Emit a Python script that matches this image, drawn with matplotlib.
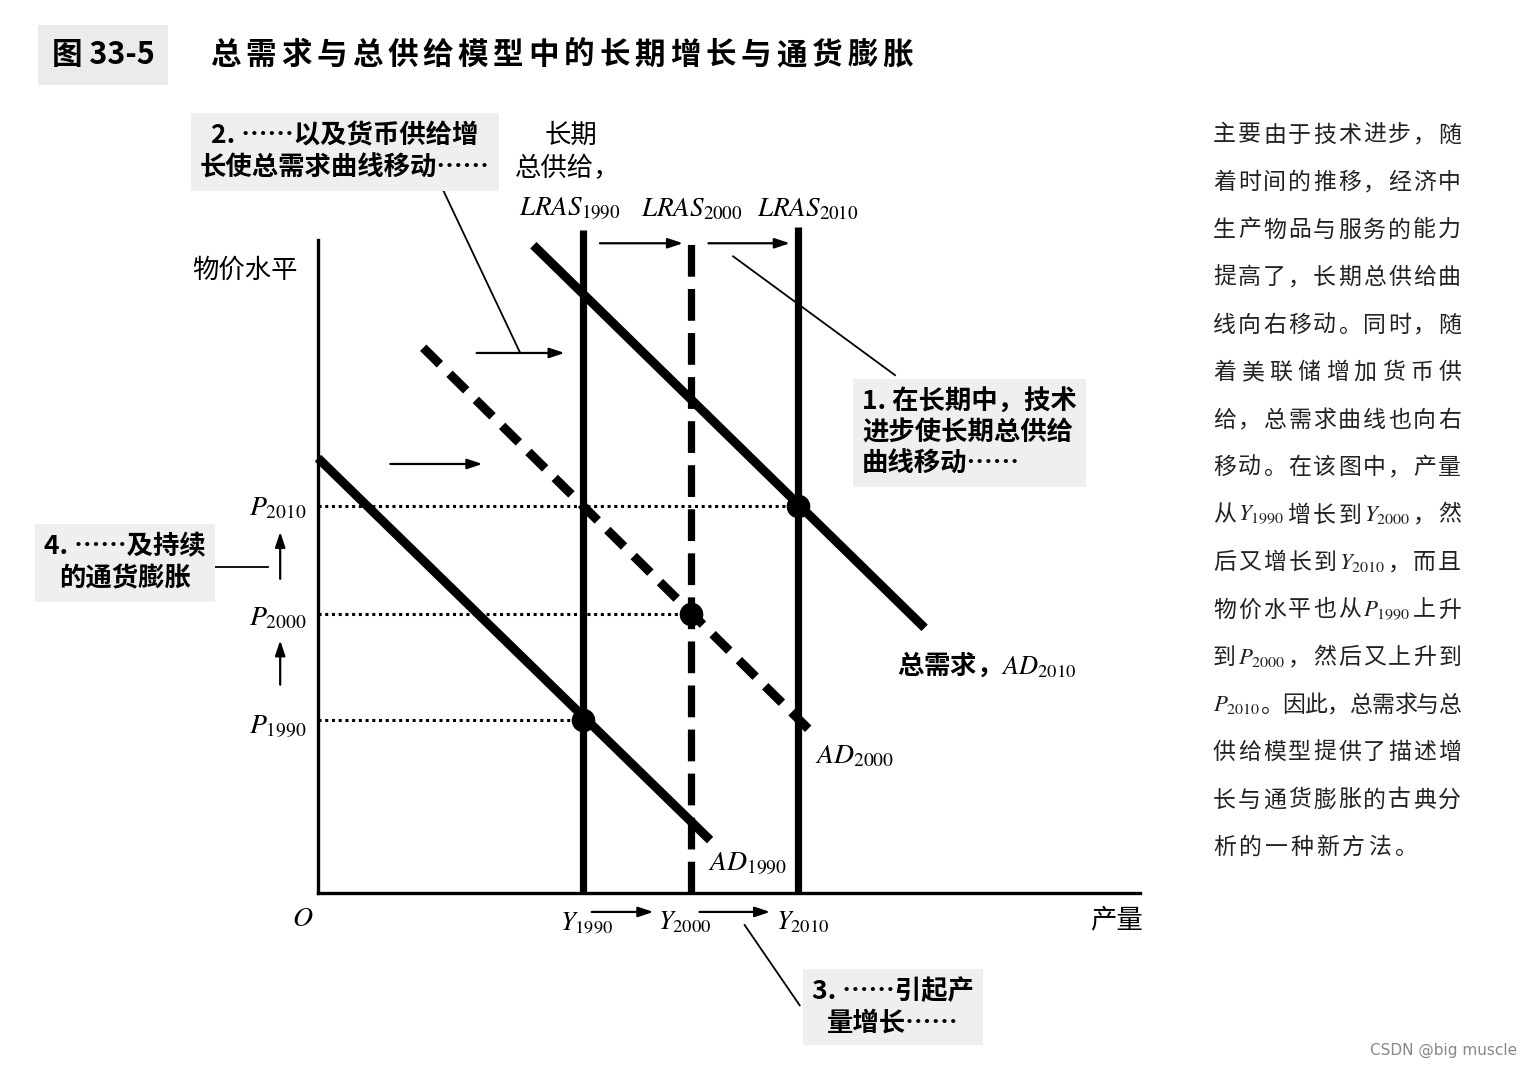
# -*- coding: utf-8 -*-
# 图 33-5：总需求与总供给模型中的长期增长与通货膨胀
import re
import matplotlib
matplotlib.use('Agg')
import matplotlib.pyplot as plt

plt.rcParams['font.family'] = ['Noto Sans CJK SC', 'DejaVu Sans']
plt.rcParams['mathtext.fontset'] = 'stix'

# ---------------- 数据 ----------------
years = ['1990', '2000', '2010']
# 产量 Y（长期总供给位置）与物价水平 P（均衡价格）
Y = [32.2, 45.4, 58.4]
P = [26.5, 42.7, 59.3]
# LRAS 顶端高度
lras_top = [101.5, 100.0, 102.0]
lras_style = ['solid', 'dashed', 'solid']
# 总需求曲线的两个端点
ad_x = [[0.0, 47.7], [12.8, 60.8], [26.2, 73.8]]
ad_y = [[66.6, 8.1], [83.5, 23.7], [99.2, 40.6]]
ad_style = ['solid', 'dashed', 'solid']

title_num = '图 33-5'
title_txt = '总需求与总供给模型中的长期增长与通货膨胀'

side_lines = [
    '主要由于技术进步，随',
    '着时间的推移，经济中',
    '生产物品与服务的能力',
    '提高了，长期总供给曲',
    '线向右移动。同时，随',
    '着美联储增加货币供',
    '给，总需求曲线也向右',
    '移动。在该图中，产量',
    '从$Y_{1990}$增长到$Y_{2000}$，然',
    '后又增长到$Y_{2010}$，而且',
    '物价水平也从$P_{1990}$上升',
    '到$P_{2000}$，然后又上升到',
    '$P_{2010}$。因此，总需求与总',
    '供给模型提供了描述增',
    '长与通货膨胀的古典分',
    '析的一种新方法。',
]

W, H = 1532, 1068


def px(x, y):
    # 像素位置 -> figure 坐标
    return x / W, 1 - y / H


fig = plt.figure(figsize=(W / 100, H / 100), dpi=100)
fig.patch.set_facecolor('white')

# 坐标轴区域：原点 (318, 893)，右端 1140，顶端 240
ax = fig.add_axes([318 / W, 1 - 893 / H, 822 / W, 653 / H])
ax.set_xlim(0, 100)
ax.set_ylim(0, 100)
ax.patch.set_alpha(0)
for s in ['top', 'right']:
    ax.spines[s].set_visible(False)
for s in ['left', 'bottom']:
    ax.spines[s].set_linewidth(2.4)
ax.set_xticks([])
ax.set_yticks([])

# 虚线：价格水平
for i in range(3):
    ax.plot([0, Y[i]], [P[i], P[i]], color='black', lw=2.2,
            linestyle=(0, (1, 1.2)), clip_on=False)

# 长期总供给
for i in range(3):
    ln, = ax.plot([Y[i], Y[i]], [0, lras_top[i]], color='black', lw=5.2,
                  solid_capstyle='butt', clip_on=False)
    if lras_style[i] == 'dashed':
        ln.set_dashes((4.4, 1.7))

# 总需求
for i in range(3):
    ln, = ax.plot(ad_x[i], ad_y[i], color='black', lw=6.5,
                  solid_capstyle='butt', clip_on=False)
    if ad_style[i] == 'dashed':
        ln.set_dashes((2.6, 1.5))

# 均衡点
ax.plot(Y, P, 'o', color='black', markersize=16, clip_on=False)

arrow = dict(arrowstyle='-|>,head_length=0.9,head_width=0.3', color='black',
             lw=1.6, shrinkA=0, shrinkB=0)

# LRAS 之间的箭头
for i in range(2):
    ax.annotate('', xy=(Y[i + 1] - 1.0, 99.5), xytext=(Y[i] + 2.1, 99.5),
                arrowprops=arrow, annotation_clip=False)
# 产量轴下方的箭头
ax.annotate('', xy=(40.8, -2.9), xytext=(33.3, -2.9),
            arrowprops=arrow, annotation_clip=False)
ax.annotate('', xy=(55.0, -2.9), xytext=(46.4, -2.9),
            arrowprops=arrow, annotation_clip=False)
# 价格轴左侧的箭头
for i in range(2):
    ax.annotate('', xy=(-4.6, P[i + 1] - 4.0), xytext=(-4.6, P[i] + 5.4),
                arrowprops=arrow, annotation_clip=False)
# 总需求移动的箭头
ax.annotate('', xy=(20.0, 65.7), xytext=(8.8, 65.7),
            arrowprops=arrow, annotation_clip=False)
ax.annotate('', xy=(30.0, 82.7), xytext=(19.3, 82.7),
            arrowprops=arrow, annotation_clip=False)

# 引线
lead_kw = dict(color='black', lw=1.3, clip_on=False)
ax.plot([15.2, 24.6], [107.7, 82.7], **lead_kw)
ax.plot([50.5, 70.2], [97.5, 79.3], **lead_kw)
ax.plot([51.9, 58.6], [-4.9, -17.2], **lead_kw)
ax.plot([-12.5, -6.1], [49.9, 49.9], **lead_kw)

# ---------------- 文字 ----------------
# 标题
fig.text(*px(103, 55), title_num, fontsize=22, fontweight='bold', ha='center',
         va='center', bbox=dict(boxstyle='square,pad=0.45', fc='#ebebeb', ec='none'))
for k, ch in enumerate(title_txt):
    fig.text(*px(210 + k * 35.4, 55), ch, fontsize=22, fontweight='bold',
             ha='left', va='center')

# 轴标签
fig.text(*px(245, 270), '物价水平', fontsize=19, ha='center', va='center')
fig.text(*px(1116, 920), '产量', fontsize=19, ha='center', va='center')
fig.text(*px(303, 918), '$O$', fontsize=20, ha='center', va='center')

p_y = [725, 617, 507]
for i in range(3):
    fig.text(*px(306, p_y[i]), '$P_{%s}$' % years[i], fontsize=20,
             ha='right', va='center')
y_x = [587, 685, 803]
for i in range(3):
    fig.text(*px(y_x[i], 922), '$Y_{%s}$' % years[i], fontsize=19,
             ha='center', va='center')
lras_x = [570, 692, 808]
for i in range(3):
    fig.text(*px(lras_x[i], 209), '$LRAS_{%s}$' % years[i], fontsize=19.5,
             ha='center', va='center')

fig.text(*px(571, 135), '长期', fontsize=19, ha='center', va='center')
fig.text(*px(568, 168), '总供给，', fontsize=19, ha='center', va='center')

fig.text(*px(708, 862), '$AD_{1990}$', fontsize=20, ha='left', va='center')
fig.text(*px(815, 755), '$AD_{2000}$', fontsize=20, ha='left', va='center')
fig.text(*px(897, 665), '总需求，$AD_{2010}$', fontsize=19, fontweight='bold',
         ha='left', va='center')

# 说明框
box = dict(boxstyle='square,pad=0.35', fc='#efefef', ec='none')
fig.text(*px(345, 152), '2. ……以及货币供给增\n长使总需求曲线移动……', fontsize=19,
         fontweight='bold', ha='center', va='center', multialignment='center',
         linespacing=1.25, bbox=box)
fig.text(*px(862, 433), '1. 在长期中，技术\n进步使长期总供给\n曲线移动……', fontsize=19,
         fontweight='bold', ha='left', va='center', multialignment='left',
         linespacing=1.2, bbox=box)
fig.text(*px(893, 1007), '3. ……引起产\n量增长……', fontsize=19,
         fontweight='bold', ha='center', va='center', multialignment='center',
         linespacing=1.2, bbox=box)
fig.text(*px(125, 563), '4. ……及持续\n的通货膨胀', fontsize=19,
         fontweight='bold', ha='center', va='center', multialignment='center',
         linespacing=1.25, bbox=box)

# 右侧说明文字（两端对齐，逐字排放）
renderer = fig.canvas.get_renderer()
left, right = 1213, 1461
for k, line in enumerate(side_lines):
    tokens = [t for t in re.findall(r'\$[^$]*\$|.', line) if t.strip()]
    texts = [fig.text(*px(left, 135 + k * 47.5), t, fontsize=16.5, ha='left',
                      va='center', color='#222222') for t in tokens]
    widths = [t.get_window_extent(renderer).width for t in texts]
    if k == len(side_lines) - 1:
        gap = 3.0
    else:
        gap = (right - left - sum(widths)) / (len(tokens) - 1)
    x = left
    for t, w in zip(texts, widths):
        t.set_x(x / W)
        x += w + gap

fig.text(*px(1517, 1050), 'CSDN @big muscle', fontsize=11, color='#888888',
         ha='right', va='center', family='DejaVu Sans')

fig.savefig('out.png', dpi=100)
